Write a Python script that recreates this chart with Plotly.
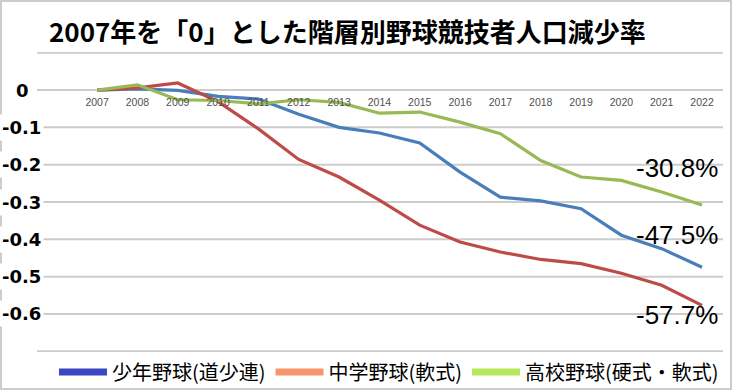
import plotly.graph_objects as go

# ---- data ----
years = list(range(2007, 2023))
year_labels = [str(y) for y in years]
shonen = [0, 0.003, -0.001, -0.017, -0.024, -0.065, -0.100, -0.115, -0.142,
          -0.220, -0.287, -0.297, -0.318, -0.389, -0.425, -0.475]
chugaku = [0, 0.006, 0.019, -0.031, -0.104, -0.186, -0.233, -0.295, -0.362,
           -0.407, -0.434, -0.454, -0.465, -0.491, -0.523, -0.577]
koko = [0, 0.014, -0.026, -0.028, -0.037, -0.026, -0.033, -0.062, -0.059,
        -0.086, -0.117, -0.189, -0.233, -0.242, -0.273, -0.308]
series_names = ["少年野球(道少連)", "中学野球(軟式)", "高校野球(硬式・軟式)"]
grid_vals = [0.1, 0, -0.1, -0.2, -0.3, -0.4, -0.5, -0.6, -0.7]
y_tick_vals = [0, -0.1, -0.2, -0.3, -0.4, -0.5, -0.6]
y_tick_text = ["0", "-0.1", "-0.2", "-0.3", "-0.4", "-0.5", "-0.6"]
end_label_y = [-0.21, -0.389, -0.603]  # vertical placement of end labels (koko, shonen, chugaku)

line_colors = ["#4a7ebb", "#be4b48", "#98b954"]
legend_colors = ["#3a46c2", "#f7956b", "#b5e85a"]

W, H = 736, 391
ML, MR, MT, MB = 37, 13, 52, 39
PW = W - ML - MR
X_RANGE = [2005.51, 2022.52]

fig = go.Figure()
# horizontal gridlines across the axis range, one per grid value
for gv in grid_vals:
    fig.add_trace(go.Scatter(x=X_RANGE, y=[gv, gv], mode="lines",
                             line=dict(color="#cccccc", width=2),
                             showlegend=False, hoverinfo="skip"))
for vals, col in zip([shonen, chugaku, koko], line_colors):
    fig.add_trace(go.Scatter(x=years, y=vals, mode="lines",
                             line=dict(color=col, width=3.2),
                             showlegend=False, hoverinfo="skip"))
for name, col in zip(series_names, legend_colors):
    fig.add_trace(go.Scatter(x=[None], y=[None], mode="lines", name=name,
                             line=dict(color=col, width=7)))

annotations = []
# y-axis labels
for v, t in zip(y_tick_vals, y_tick_text):
    if t == "0":
        annotations.append(dict(x=(22 - ML) / PW, xref="paper", y=v, yref="y",
                                text=f"<b>{t}</b>", showarrow=False, xanchor="center",
                                font=dict(family="DejaVu Sans", size=18, color="#000"),
                                ))
    else:
        annotations.append(dict(x=(44 - ML) / PW, xref="paper", y=v, yref="y",
                                text=f"<b>{t}</b>", showarrow=False, xanchor="right",
                                bgcolor="white", borderpad=2,
                                font=dict(family="DejaVu Sans", size=18, color="#000")))
# end-value labels
for vals, yy in zip([koko, shonen, chugaku], end_label_y):
    annotations.append(dict(x=2022.45, xref="x", y=yy, yref="y",
                            text=f"{vals[-1]*100:.1f}%", showarrow=False,
                            xanchor="right", yanchor="middle",
                            font=dict(family="Liberation Sans", size=26, color="#000")))

fig.update_layout(
    width=W, height=H,
    margin=dict(l=ML, r=MR, t=MT, b=MB, pad=0, autoexpand=False),
    paper_bgcolor="white", plot_bgcolor="white",
    title=dict(text="<b>2007年を「0」とした階層別野球競技者人口減少率</b>",
               x=49 / W, xanchor="left", y=1 - 33 / H, yanchor="middle",
               font=dict(family="Noto Sans CJK JP", size=26, color="#000")),
    xaxis=dict(range=X_RANGE, tickvals=years, ticktext=year_labels,
               showgrid=False, zeroline=False, showline=False, ticks="",
               anchor="free", position=0.875, side="bottom", automargin=False,
               ticklabelstandoff=5,
               tickfont=dict(family="Liberation Sans", size=10.5, color="#505050")),
    yaxis=dict(range=[-0.702, 0.102], tickmode="array", tickvals=grid_vals,
               showgrid=False, zeroline=False, showline=False,
               showticklabels=False, ticks="", automargin=False),
    legend=dict(orientation="h", x=(54 - ML) / PW, xanchor="left",
                y=-(372 - 352) / 300, yanchor="middle",
                font=dict(family="Noto Sans CJK JP", size=20, color="#000"),
                itemwidth=48, bgcolor="rgba(0,0,0,0)"),
    annotations=annotations,
    shapes=[dict(type="rect", xref="paper", yref="paper",
                 x0=(1 - ML) / PW, x1=(731 - ML) / PW,
                 y0=(352 - 389) / 300, y1=(352 - 1) / 300,
                 line=dict(color="#cccccc", width=2))],
)

fig.write_html("out.html", config={"displayModeBar": False},
               post_script="document.body.style.margin='0';document.body.style.overflow='hidden';")
